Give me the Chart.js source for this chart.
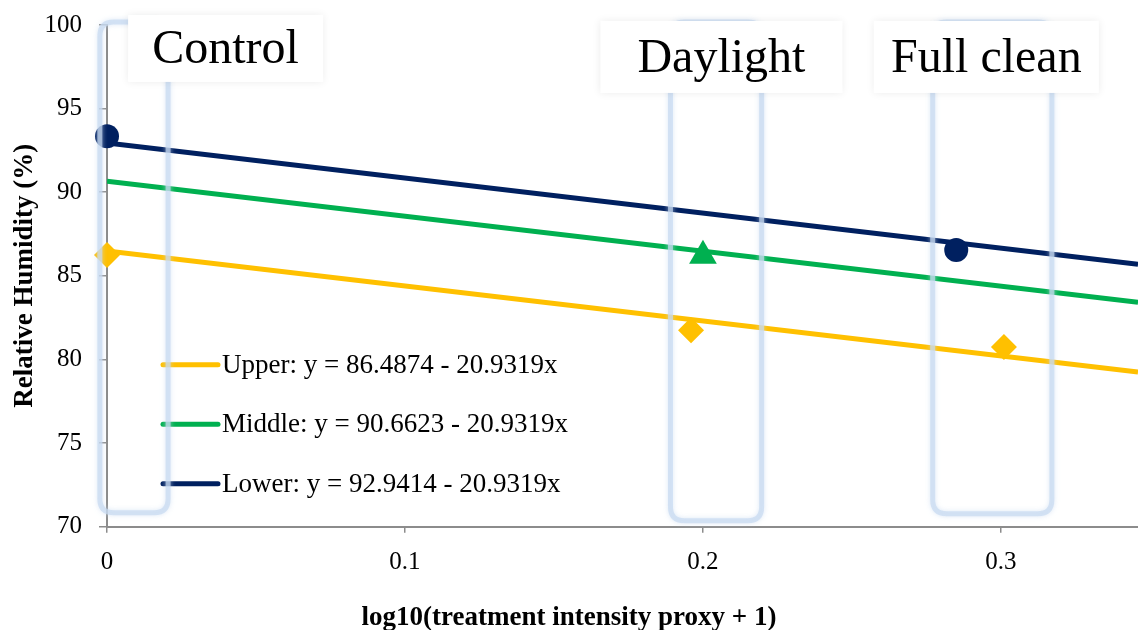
<!DOCTYPE html>
<html>
<head>
<meta charset="utf-8">
<script src="https://cdn.jsdelivr.net/npm/chart.js@4.4.1/dist/chart.umd.min.js"></script>
<style>
    html, body { margin: 0; padding: 0; background: #fff; }
    #wrap { width: 1138px; height: 630px; }
</style>
</head>
<body>
<div id="wrap"><canvas id="rhChart"></canvas></div>
<script>
// measured points (x = log10(proxy + 1), y = RH %)
const upperX = [0, 0.196, 0.301];
const upperY = [86.25, 81.75, 80.75];
const middleX = [0.2];
const middleY = [86.2];
const lowerX = [0, 0.285];
const lowerY = [93.35, 86.55];

// fitted lines, read at both ends of the x axis
const trendX = [0, 0.346];
const upperTrend = [86.49, 79.25];
const middleTrend = [90.66, 83.42];
const lowerTrend = [92.94, 85.70];

const fitLabels = [
    'Upper: y = 86.4874 - 20.9319x',
    'Middle: y = 90.6623 - 20.9319x',
    'Lower: y = 92.9414 - 20.9319x'
];
const groupNames = ['Control', 'Daylight', 'Full clean'];
const xTicks = [0, 0.1, 0.2, 0.3];
const yTicks = [70, 75, 80, 85, 90, 95, 100];

const SERIF = "'Liberation Serif', 'Times New Roman', serif";
const colors = { upper: '#FFC000', middle: '#00B050', lower: '#002060' };

function pts(xs, ys) {
    return xs.map(function(x, i) { return { x: x, y: ys[i] }; });
}

function roundRect(c, x, y, w, h, r) {
    c.beginPath();
    c.moveTo(x + r, y);
    c.lineTo(x + w - r, y);
    c.quadraticCurveTo(x + w, y, x + w, y + r);
    c.lineTo(x + w, y + h - r);
    c.quadraticCurveTo(x + w, y + h, x + w - r, y + h);
    c.lineTo(x + r, y + h);
    c.quadraticCurveTo(x, y + h, x, y + h - r);
    c.lineTo(x, y + r);
    c.quadraticCurveTo(x, y, x + r, y);
    c.closePath();
}

// legend inside the plot, treatment bands and their name boxes
const overlayPlugin = {
    id: 'rhOverlay',
    afterDatasetsDraw(chart, args, opts) {
        const c = chart.ctx;
        const area = chart.chartArea;
        const xs = chart.scales.x;
        const ys = chart.scales.y;

        // legend
        c.save();
        c.font = opts.legendFont + 'px ' + SERIF;
        c.textBaseline = 'middle';
        c.textAlign = 'left';
        let row = 0;
        chart.data.datasets.forEach(function(ds) {
            if (!ds.isFit) return;
            const y = area.bottom - opts.legendBottom + row * opts.legendGap;
            const x = area.left + opts.legendLeft;
            c.strokeStyle = ds.borderColor;
            c.lineWidth = 5;
            c.lineCap = 'round';
            c.beginPath();
            c.moveTo(x, y);
            c.lineTo(x + 55, y);
            c.stroke();
            c.fillStyle = '#000';
            c.fillText(ds.label, x + 59, y + 1);
            row++;
        });
        c.restore();

        // bands
        c.save();
        opts.bands.forEach(function(b) {
            const x0 = xs.getPixelForValue(b.x0);
            const x1 = xs.getPixelForValue(b.x1);
            const y0 = ys.getPixelForValue(b.top);
            const y1 = ys.getPixelForValue(b.bottom);
            c.strokeStyle = 'rgba(200, 218, 241, 0.7)';
            c.shadowColor = 'rgba(200, 218, 241, 0.9)';
            c.shadowBlur = 5;
            c.lineWidth = 5;
            roundRect(c, x0, y0, x1 - x0, y1 - y0, 14);
            c.stroke();
        });
        c.restore();

        // name boxes
        c.save();
        opts.names.forEach(function(n, i) {
            const cx = xs.getPixelForValue(n.x);
            const cy = ys.getPixelForValue(n.y);
            c.shadowColor = 'rgba(0, 0, 0, 0.08)';
            c.shadowBlur = 8;
            c.fillStyle = '#fff';
            c.fillRect(cx - n.w / 2, cy - n.h / 2, n.w, n.h);
            c.shadowBlur = 0;
            c.fillStyle = '#000';
            c.font = '48px ' + SERIF;
            c.textAlign = 'center';
            c.textBaseline = 'middle';
            c.fillText(groupNames[i], cx, cy + 2);
        });
        c.restore();
    }
};

const ctx = document.getElementById('rhChart').getContext('2d');
new Chart(ctx, {
    type: 'scatter',
    data: {
        datasets: [
            { label: 'Upper', data: pts(upperX, upperY), pointStyle: 'rectRot', pointRadius: 13,
              backgroundColor: colors.upper, borderWidth: 0, order: 0, clip: false },
            { label: 'Middle', data: pts(middleX, middleY), pointStyle: 'triangle', pointRadius: 16,
              backgroundColor: colors.middle, borderWidth: 0, order: 0, clip: false },
            { label: 'Lower', data: pts(lowerX, lowerY), pointStyle: 'circle', pointRadius: 12,
              backgroundColor: colors.lower, borderWidth: 0, order: 0, clip: false },
            { label: fitLabels[0], data: pts(trendX, upperTrend), showLine: true, isFit: true,
              borderColor: colors.upper, borderWidth: 5, pointRadius: 0, order: 1 },
            { label: fitLabels[1], data: pts(trendX, middleTrend), showLine: true, isFit: true,
              borderColor: colors.middle, borderWidth: 5, pointRadius: 0, order: 1 },
            { label: fitLabels[2], data: pts(trendX, lowerTrend), showLine: true, isFit: true,
              borderColor: colors.lower, borderWidth: 5, pointRadius: 0, order: 1 }
        ]
    },
    options: {
        responsive: true,
        maintainAspectRatio: false,
        animation: false,
        events: [],
        layout: { autoPadding: false, padding: { top: 25, right: 0, bottom: 0, left: 0 } },
        plugins: {
            legend: { display: false },
            tooltip: { enabled: false },
            title: {
                display: true,
                text: 'log10(treatment intensity proxy + 1)',
                position: 'bottom',
                color: '#000',
                font: { family: SERIF, size: 27, weight: 'bold', lineHeight: 0.9 },
                padding: 0
            },
            rhOverlay: {
                legendFont: 27,
                legendLeft: 56,
                legendBottom: 162,
                legendGap: 59.5,
                bands: [
                    { x0: -0.0024, x1: 0.0205, top: 100.18, bottom: 70.84 },
                    { x0: 0.1891, x1: 0.2197, top: 100.18, bottom: 70.36 },
                    { x0: 0.2771, x1: 0.3171, top: 100.18, bottom: 70.78 }
                ],
                names: [
                    { x: 0.0398, y: 98.6, w: 195, h: 67 },
                    { x: 0.2062, y: 98.09, w: 242, h: 72 },
                    { x: 0.2951, y: 98.09, w: 225, h: 72 }
                ]
            }
        },
        scales: {
            x: {
                type: 'linear',
                min: 0,
                max: 0.346,
                afterBuildTicks: function(axis) { axis.ticks = xTicks.map(function(v) { return { value: v }; }); },
                afterFit: function(axis) {
                    axis.height = 79;
                    axis.paddingLeft = 0;
                    axis.paddingRight = 0;
                },
                ticks: {
                    color: '#000',
                    font: { family: SERIF, size: 25 },
                    padding: 15,
                    maxRotation: 0,
                    callback: function(v) { return String(v); }
                },
                grid: { drawOnChartArea: false, drawTicks: true, tickLength: 6, color: '#8c8c8c', lineWidth: 1.5 },
                border: { display: true, color: '#8c8c8c', width: 2 }
            },
            y: {
                min: 70,
                max: 100,
                afterBuildTicks: function(axis) { axis.ticks = yTicks.map(function(v) { return { value: v }; }); },
                afterFit: function(axis) {
                    axis.width = 107;
                    axis.paddingTop = 0;
                    axis.paddingBottom = 0;
                },
                ticks: {
                    color: '#000',
                    font: { family: SERIF, size: 25 },
                    padding: 17
                },
                grid: { drawOnChartArea: false, drawTicks: true, tickLength: 8, color: '#8c8c8c', lineWidth: 1.5 },
                border: { display: true, color: '#8c8c8c', width: 2 },
                title: {
                    display: true,
                    text: 'Relative Humidity (%)',
                    color: '#000',
                    font: { family: SERIF, size: 27, weight: 'bold' },
                    padding: { top: 9, bottom: 0 }
                }
            }
        }
    },
    plugins: [overlayPlugin]
});
</script>
</body>
</html>
